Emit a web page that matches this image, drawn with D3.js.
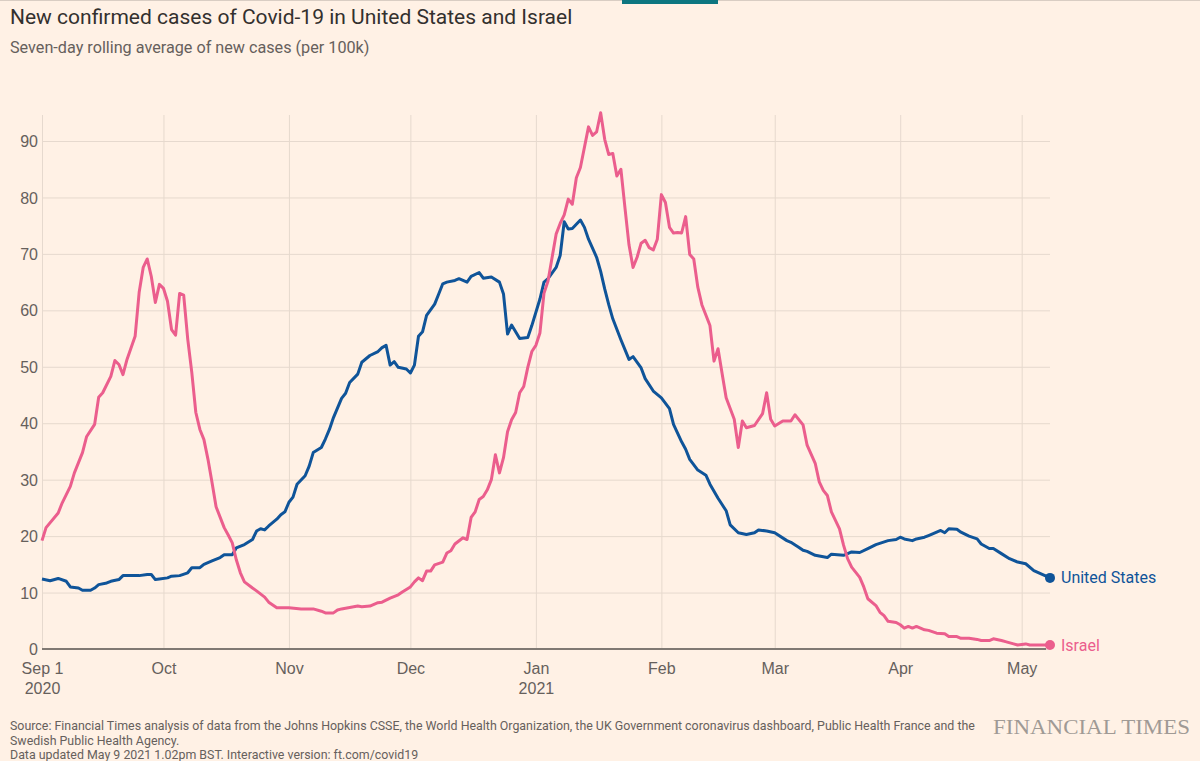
<!DOCTYPE html>
<html>
<head>
<meta charset="utf-8">
<script src="https://cdn.jsdelivr.net/npm/d3@7"></script>
<style>
  body { margin: 0; background: #fff1e5; }
  svg { display: block; font-family: Roboto, "Open Sans", sans-serif; }
  .grid line { stroke: #e6d9ce; stroke-width: 1px; }
  .grid path { display: none; }
  .tick text { fill: #66605c; font-size: 16px; }
</style>
</head>
<body>
<div id="chart"></div>
<script>
// days counted from Sep 1 2020
const usDays = [0, 2, 4, 6, 7, 9, 10, 12, 13, 14, 16, 17, 19, 20, 22, 24, 26, 27, 28, 29, 31, 32, 34, 36, 37, 39, 40, 42, 44, 45, 47, 48, 50, 52, 53, 54, 55, 56, 58, 59, 60, 61, 62, 63, 65, 66, 67, 69, 70, 71, 72, 74, 75, 76, 78, 79, 81, 83, 84, 85, 86, 87, 88, 90, 91, 92, 93, 94, 95, 97, 98, 99, 100, 102, 103, 105, 106, 108, 109, 111, 113, 114, 115, 116, 118, 120, 121, 123, 124, 125, 127, 128, 129, 130, 131, 133, 134, 135, 137, 138, 139, 140, 141, 143, 145, 146, 148, 149, 151, 153, 155, 156, 158, 159, 160, 162, 164, 165, 167, 169, 170, 172, 174, 176, 177, 179, 181, 184, 185, 187, 188, 189, 191, 194, 195, 198, 200, 202, 204, 206, 209, 211, 212, 213, 215, 216, 218, 219, 221, 222, 223, 224, 226, 227, 229, 231, 232, 234, 235, 237, 239, 241, 243, 245, 249];
const usVals = [12.4, 12.1, 12.5, 12.0, 11.0, 10.8, 10.4, 10.4, 10.8, 11.4, 11.7, 12.0, 12.3, 13.0, 13.0, 13.0, 13.2, 13.2, 12.3, 12.4, 12.6, 12.9, 13.0, 13.5, 14.4, 14.4, 15.0, 15.6, 16.2, 16.7, 16.7, 17.9, 18.5, 19.4, 20.9, 21.3, 21.1, 21.8, 23.0, 23.8, 24.3, 26.0, 26.9, 29.2, 30.7, 32.4, 34.8, 35.7, 37.2, 38.9, 41.0, 44.4, 45.3, 47.2, 48.7, 50.8, 52.0, 52.7, 53.4, 53.8, 50.3, 50.9, 49.9, 49.6, 48.9, 50.3, 55.4, 56.2, 59.1, 61.1, 62.9, 64.7, 65.0, 65.3, 65.6, 65.0, 66.0, 66.7, 65.7, 65.9, 65.0, 62.9, 55.8, 57.4, 55.0, 55.2, 57.3, 62.0, 65.0, 65.6, 67.6, 69.7, 75.7, 74.4, 74.5, 76.0, 74.7, 72.6, 69.4, 66.9, 63.8, 61.0, 58.5, 54.8, 51.3, 51.8, 49.8, 47.9, 45.7, 44.5, 42.6, 39.8, 36.7, 35.4, 33.6, 31.7, 30.8, 29.2, 26.7, 24.5, 22.0, 20.6, 20.3, 20.6, 21.1, 20.9, 20.6, 19.2, 18.9, 18.0, 17.5, 17.3, 16.6, 16.2, 16.8, 16.6, 17.2, 17.1, 17.8, 18.5, 19.2, 19.4, 19.8, 19.5, 19.2, 19.5, 19.8, 20.1, 20.7, 21.0, 20.6, 21.3, 21.2, 20.7, 20.0, 19.5, 18.6, 17.8, 17.8, 16.9, 16.0, 15.4, 15.1, 13.9, 12.6];

const ilDays = [0, 1, 4, 5, 7, 8, 10, 11, 13, 14, 15, 17, 18, 19, 20, 21, 23, 24, 25, 26, 27, 28, 29, 30, 31, 32, 33, 34, 35, 36, 37, 38, 39, 40, 41, 42, 43, 45, 46, 47, 48, 49, 50, 52, 53, 55, 56, 58, 61, 64, 67, 69, 70, 72, 73, 74, 78, 79, 81, 83, 84, 86, 88, 89, 91, 92, 93, 94, 95, 96, 97, 99, 100, 101, 102, 104, 105, 106, 107, 108, 109, 110, 111, 112, 113, 114, 115, 116, 117, 118, 119, 120, 121, 122, 123, 124, 125, 127, 128, 129, 130, 131, 132, 133, 135, 136, 137, 138, 139, 140, 141, 142, 143, 144, 145, 146, 147, 148, 149, 150, 151, 152, 153, 154, 155, 156, 157, 158, 159, 160, 161, 162, 163, 165, 166, 167, 168, 169, 171, 172, 173, 174, 176, 178, 179, 180, 181, 183, 185, 186, 188, 189, 191, 192, 193, 194, 195, 197, 198, 199, 200, 202, 203, 204, 206, 207, 208, 209, 211, 212, 213, 214, 215, 216, 218, 219, 221, 223, 224, 226, 227, 229, 231, 232, 234, 235, 237, 238, 240, 241, 243, 244, 246, 249];
const ilVals = [19.2, 21.5, 24.1, 25.9, 28.8, 31.2, 34.8, 37.6, 39.8, 44.6, 45.4, 48.3, 51.1, 50.4, 48.6, 51.3, 55.4, 63.2, 67.6, 69.1, 66.0, 61.4, 64.6, 63.9, 61.6, 56.6, 55.6, 63.0, 62.7, 54.9, 49.0, 41.9, 38.9, 37.1, 33.6, 29.5, 25.2, 21.5, 20.2, 18.8, 15.8, 13.5, 11.9, 10.8, 10.3, 9.2, 8.3, 7.3, 7.3, 7.1, 7.1, 6.7, 6.4, 6.4, 6.9, 7.1, 7.6, 7.5, 7.6, 8.2, 8.3, 9.0, 9.6, 10.1, 11.0, 11.9, 12.6, 12.1, 13.8, 13.8, 14.9, 15.4, 17.0, 17.4, 18.6, 19.7, 19.4, 23.3, 24.3, 26.5, 27.0, 28.2, 30.0, 34.4, 31.2, 33.9, 38.5, 40.6, 41.9, 45.4, 46.5, 49.9, 52.7, 53.8, 56.0, 63.0, 65.2, 73.5, 75.4, 76.9, 79.7, 78.8, 83.5, 85.3, 92.5, 91.0, 91.6, 95.0, 90.3, 87.6, 87.8, 83.8, 85.0, 78.2, 71.6, 67.6, 69.4, 71.9, 72.4, 71.1, 70.7, 72.6, 80.5, 79.1, 74.7, 73.7, 73.8, 73.7, 76.6, 69.9, 69.1, 64.1, 61.0, 57.3, 51.0, 53.2, 48.8, 44.5, 40.7, 35.7, 40.4, 39.2, 39.6, 41.7, 45.4, 40.7, 39.5, 40.4, 40.4, 41.5, 39.7, 36.1, 32.9, 29.6, 28.1, 27.2, 24.3, 21.3, 18.4, 16.0, 14.5, 12.7, 11.0, 8.9, 7.7, 6.5, 5.9, 4.9, 4.7, 4.3, 3.7, 4.0, 3.7, 4.0, 3.4, 3.3, 2.8, 2.7, 2.2, 2.2, 1.9, 1.9, 1.7, 1.5, 1.5, 1.8, 1.5, 1.3, 0.9, 0.7, 0.9, 0.7, 0.7, 0.7];

const yTicks = [0, 10, 20, 30, 40, 50, 60, 70, 80, 90];
const monthTicks = ['2020-09-01', '2020-10-01', '2020-11-01', '2020-12-01', '2021-01-01', '2021-02-01', '2021-03-01', '2021-04-01', '2021-05-01'];
const monthLabels = ['Sep 1', 'Oct', 'Nov', 'Dec', 'Jan', 'Feb', 'Mar', 'Apr', 'May'];
const yearLabels = ['2020', '', '', '', '2021', '', '', '', ''];

const title = 'New confirmed cases of Covid-19 in United States and Israel';
const subtitle = 'Seven-day rolling average of new cases (per 100k)';
const sourceLines = [
    'Source: Financial Times analysis of data from the Johns Hopkins CSSE, the World Health Organization, the UK Government coronavirus dashboard, Public Health France and the',
    'Swedish Public Health Agency.',
    'Data updated May 9 2021 1.02pm BST. Interactive version: ft.com/covid19'
];

const usColor = '#0f5499';
const ilColor = '#eb5e8d';

const W = 1200, H = 761;
const margin = { top: 115, right: 150, bottom: 112, left: 42 };
const width = W - margin.left - margin.right;
const height = H - margin.top - margin.bottom;

const parse = d3.timeParse('%Y-%m-%d');
const start = parse('2020-09-01');
const toDate = d => d3.timeDay.offset(start, d);

const us = usDays.map((d, i) => ({ date: toDate(d), value: usVals[i] }));
const il = ilDays.map((d, i) => ({ date: toDate(d), value: ilVals[i] }));

const svgRoot = d3.select('#chart').append('svg')
    .attr('width', W)
    .attr('height', H);

svgRoot.append('rect').attr('width', W).attr('height', H).attr('fill', '#fff1e5');
svgRoot.append('line').attr('x1', 0).attr('x2', W).attr('y1', 0.5).attr('y2', 0.5)
    .attr('stroke', '#d9cdc3');
svgRoot.append('rect').attr('x', 622).attr('y', 0).attr('width', 96).attr('height', 4)
    .attr('fill', '#0d7680');

svgRoot.append('text').attr('x', 10).attr('y', 24)
    .style('font-size', '21px').style('fill', '#33302e')
    .text(title);
svgRoot.append('text').attr('x', 10).attr('y', 53)
    .style('font-size', '16.2px').style('fill', '#66605c')
    .text(subtitle);

const svg = svgRoot.append('g')
    .attr('transform', `translate(${margin.left},${margin.top})`);

const x = d3.scaleTime().domain([start, toDate(249)]).range([0, width]);
const y = d3.scaleLinear().domain([0, 90]).range([height, 141 - margin.top]);

// horizontal grid + y labels
svg.append('g')
    .attr('class', 'grid')
    .call(d3.axisLeft(y).tickValues(yTicks).tickSizeInner(-width).tickSizeOuter(0).tickPadding(4))
    .call(g => g.selectAll('.tick text').attr('x', -4).attr('dy', '0.35em'));

// vertical grid + month labels
const xg = svg.append('g')
    .attr('class', 'grid')
    .attr('transform', `translate(0,${height})`)
    .call(d3.axisBottom(x).tickValues(monthTicks.map(parse)).tickSizeInner(-height).tickSizeOuter(0).tickFormat(''));

xg.selectAll('.tick').each(function (d, i) {
    const t = d3.select(this).append('text')
        .attr('text-anchor', 'middle')
        .attr('y', 25);
    t.append('tspan').attr('x', 0).text(monthLabels[i]);
    if (yearLabels[i]) t.append('tspan').attr('x', 0).attr('dy', 20).text(yearLabels[i]);
});

// baseline
svg.append('line')
    .attr('x1', 0).attr('x2', width - 4)
    .attr('y1', y(0)).attr('y2', y(0))
    .attr('stroke', '#807973').attr('stroke-width', 2);

const line = d3.line().x(d => x(d.date)).y(d => y(d.value));

[[us, usColor, 'United States'], [il, ilColor, 'Israel']].forEach(([data, color, name]) => {
    svg.append('path')
        .datum(data)
        .attr('d', line)
        .attr('fill', 'none')
        .attr('stroke', color)
        .attr('stroke-width', 3)
        .attr('stroke-linejoin', 'round');

    const last = data[data.length - 1];
    svg.append('circle')
        .attr('cx', x(last.date)).attr('cy', y(last.value))
        .attr('r', 5).attr('fill', color);
    svg.append('text')
        .attr('x', x(last.date) + 11).attr('y', y(last.value))
        .attr('dy', '0.35em')
        .style('font-size', '16px').style('fill', color)
        .text(name);
});

// footer
svgRoot.append('g').selectAll('text')
    .data(sourceLines)
    .enter().append('text')
    .attr('x', 10)
    .attr('y', (d, i) => 730 + i * 14.5)
    .style('font-size', '12.4px').style('fill', '#66605c')
    .text(d => d);

svgRoot.append('text')
    .attr('x', 993).attr('y', 734)
    .attr('textLength', 197)
    .attr('lengthAdjust', 'spacingAndGlyphs')
    .style('font-family', '"Liberation Serif", serif')
    .style('font-size', '21px').style('fill', '#a09a95')
    .text('FINANCIAL TIMES');
</script>
</body>
</html>
